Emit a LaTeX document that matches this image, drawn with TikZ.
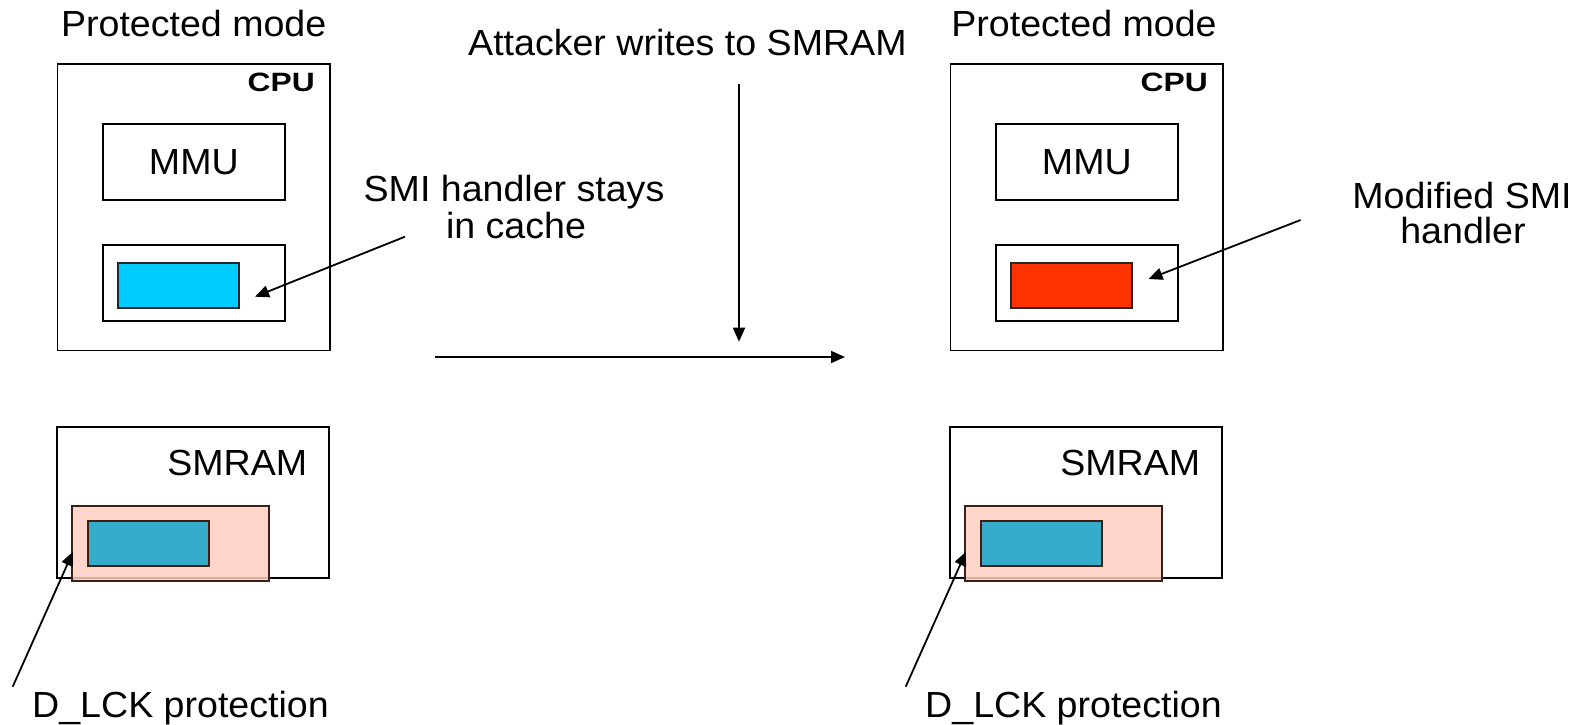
\documentclass[tikz,border=0pt]{standalone}
\usepackage{fontspec}
\setmainfont[FakeStretch=1.035]{Liberation Sans}
\newfontfamily\cpufont[FakeStretch=1.2]{Liberation Sans}
\usetikzlibrary{arrows.meta,fit}
\definecolor{cyanfill}{HTML}{00CCFF}
\definecolor{redfill}{HTML}{FF3300}
\definecolor{pinkfill}{HTML}{FFCEC3}
\definecolor{tealfill}{HTML}{36ACCB}
\definecolor{darkedge}{HTML}{3D1F14}
\begin{document}
\begin{tikzpicture}[x=1pt,y=-1pt,
  box/.style={draw=black,line width=1.8pt,inner sep=0pt,outer sep=0pt},
  inner/.style={draw=darkedge,line width=1.8pt,inner sep=0pt,outer sep=0pt},
  lbl/.style={font=\fontsize{36.3}{36}\selectfont,inner sep=0pt,anchor=base},
  cpulbl/.style={font=\cpufont\fontsize{26.5}{26}\selectfont\bfseries,inner sep=0pt,anchor=base east},
  arr/.style={line width=1.8pt,-{Triangle[length=14pt,width=12pt]}},
  ]
\useasboundingbox (0,0) rectangle (1585,724);

% ---------- left panel ----------
\node[lbl] (pmL) at (193.7,36.7) {Protected mode};
\node[box,fit={(57.5,64) (330,350.5)}] (cpuL) {};
\node[cpulbl] (cpulL) at (315,91.7) {CPU};
\node[box,fit={(102.7,124) (285,200)}] (mmuL) {};
\node[font=\fontsize{36.3}{36}\selectfont,inner sep=0pt] (mmutL) at (193.85,162.5) {MMU};
\node[box,fit={(102.7,245) (285,321)}] (cacheL) {};
\node[box,fill=cyanfill,draw=black!85,fit={(118.3,263.3) (239.3,308.3)}] (smiL) {};
\node[lbl] (stay1) at (514,201.7) {SMI handler stays};
\node[lbl] (stay2) at (516,238) {in cache};
\coordinate (stayTail) at (405,236.7);
\coordinate (stayTip) at (255,296.7);
\draw[arr] (stayTail) -- (stayTip);

\node[box,fit={(57.3,426.7) (329.3,577.7)}] (smramL) {};
\node[lbl] (smramtL) at (237.2,475) {SMRAM};
\node[inner,fill=pinkfill,fill opacity=0.85,fit={(72.3,505.7) (269.3,580.7)}] (pinkL) {};
\node[inner,fill=tealfill,fit={(88.3,520.7) (209.3,565.7)}] (tealL) {};
\node[lbl] (dlckL) at (180.5,717.3) {D\_LCK protection};
\coordinate (dlckLtail) at (12.7,686.7);
\coordinate (dlckLtip) at (73,551.7);
\draw[arr] (dlckLtail) -- (dlckLtip);

% ---------- middle ----------
\node[lbl] (att) at (687.4,55) {Attacker writes to SMRAM};
\coordinate (vTop) at (739,84);
\coordinate (vTip) at (739,341.7);
\draw[arr] (vTop) -- (vTip);
\coordinate (hStart) at (434.7,357);
\coordinate (hEnd) at (845,357);
\draw[arr] (hStart) -- (hEnd);

% ---------- right panel ----------
\node[lbl] (pmR) at (1084,36.7) {Protected mode};
\node[box,fit={(950.5,64) (1223,350.5)}] (cpuR) {};
\node[cpulbl] (cpulR) at (1208,91.7) {CPU};
\node[box,fit={(995.7,124) (1178,200)}] (mmuR) {};
\node[font=\fontsize{36.3}{36}\selectfont,inner sep=0pt] (mmutR) at (1086.85,162.5) {MMU};
\node[box,fit={(995.7,245) (1178,321)}] (cacheR) {};
\node[box,fill=redfill,draw=black!85,fit={(1011.3,263.3) (1132.3,308.3)}] (smiR) {};
\node[lbl] (mod1) at (1462,208.3) {Modified SMI};
\node[lbl] (mod2) at (1463,243.3) {handler};
\coordinate (modTail) at (1300.6,220);
\coordinate (modTip) at (1148.5,279);
\draw[arr] (modTail) -- (modTip);

\node[box,fit={(950.3,426.7) (1222.3,577.7)}] (smramR) {};
\node[lbl] (smramtR) at (1130.2,475) {SMRAM};
\node[inner,fill=pinkfill,fill opacity=0.85,fit={(965.3,505.7) (1162.3,580.7)}] (pinkR) {};
\node[inner,fill=tealfill,fit={(981.3,520.7) (1102.3,565.7)}] (tealR) {};
\node[lbl] (dlckR) at (1073.5,717.3) {D\_LCK protection};
\coordinate (dlckRtail) at (905.7,686.7);
\coordinate (dlckRtip) at (966,551.7);
\draw[arr] (dlckRtail) -- (dlckRtip);
\end{tikzpicture}
\end{document}
